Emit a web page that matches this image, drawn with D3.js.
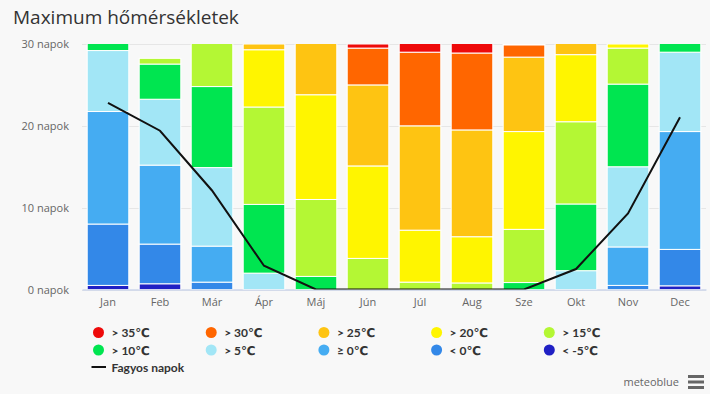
<!DOCTYPE html>
<html>
<head>
<meta charset="utf-8">
<script src="https://cdn.jsdelivr.net/npm/d3@7"></script>
<style>
    body { margin: 0; background: #f8f8f8; }
    svg { display: block; font-family: "Open Sans", "DejaVu Sans", sans-serif; }
</style>
</head>
<body>
<div id="chart-container"></div>
<script>
const months = ["Jan", "Feb", "Már", "Ápr", "Máj", "Jún", "Júl", "Aug", "Sze", "Okt", "Nov", "Dec"];
const yTicks = [0, 10, 20, 30];

// days per month in each max-temperature class, coldest first (stack order)
const belowMinus5 = [0.5, 0.7, 0, 0, 0, 0, 0, 0, 0, 0, 0, 0.45];
const below0 = [7.5, 4.85, 0.9, 0, 0, 0, 0, 0, 0, 0, 0.5, 4.45];
const above0 = [13.75, 9.65, 4.4, 0, 0, 0, 0, 0, 0, 0, 4.7, 14.4];
const above5 = [7.45, 8.05, 9.6, 2.0, 0, 0, 0, 0, 0, 2.3, 9.8, 9.7];
const above10 = [1.8, 4.3, 9.9, 8.4, 1.6, 0, 0, 0, 0.85, 8.15, 10.1, 2.0];
const above15 = [0, 0.7, 6.2, 11.9, 9.4, 3.8, 0.9, 0.8, 6.5, 10.05, 4.4, 0];
const above20 = [0, 0, 0, 7.0, 12.8, 11.3, 6.35, 5.65, 11.95, 8.2, 0.5, 0];
const above25 = [0, 0, 0, 0.7, 7.2, 9.9, 12.75, 13.05, 9.1, 2.3, 0, 0];
const above30 = [0, 0, 0, 0, 0, 4.5, 9.0, 9.4, 1.5, 0, 0, 0];
const above35 = [0, 0, 0, 0, 0, 0.5, 2.0, 2.1, 0.1, 0, 0, 0];
const frostDays = [22.8, 19.4, 12.1, 2.9, 0, 0, 0, 0, 0, 2.5, 9.3, 21.05];

const series = [
    {key: "m5", label: "< -5℃", color: "#2020c4", values: belowMinus5},
    {key: "m0", label: "< 0℃", color: "#3388e8", values: below0},
    {key: "p0", label: "≥ 0℃", color: "#45acf2", values: above0},
    {key: "p5", label: "> 5℃", color: "#a2e6f6", values: above5},
    {key: "p10", label: "> 10℃", color: "#00e550", values: above10},
    {key: "p15", label: "> 15℃", color: "#b4f734", values: above15},
    {key: "p20", label: "> 20℃", color: "#fff500", values: above20},
    {key: "p25", label: "> 25℃", color: "#fec412", values: above25},
    {key: "p30", label: "> 30℃", color: "#ff6600", values: above30},
    {key: "p35", label: "> 35℃", color: "#ee0a0a", values: above35}
];

const chartWidth = 710;
const chartHeight = 394;
const plot = {left: 82, right: 706, top: 44, bottom: 289.5};
const legendFont = "Lato, \"Open Sans\", \"DejaVu Sans\", sans-serif";

function createScales() {
    const xScale = d3.scaleBand()
        .domain(months)
        .range([plot.left, plot.right])
        .paddingInner(0.2)
        .paddingOuter(0.1);

    const yScale = d3.scaleLinear()
        .domain([0, 30])
        .range([plot.bottom, plot.top]);

    return {xScale, yScale};
}

function createSvg() {
    const svg = d3.select("#chart-container").append("svg")
        .attr("width", chartWidth)
        .attr("height", chartHeight);

    svg.append("rect")
        .attr("width", chartWidth)
        .attr("height", chartHeight)
        .attr("fill", "#f8f8f8");

    svg.append("text")
        .attr("x", 13)
        .attr("y", 24)
        .attr("fill", "#333")
        .style("font-size", "19px")
        .text("Maximum hőmérsékletek");

    svg.append("clipPath")
        .attr("id", "plot-clip")
        .append("rect")
        .attr("x", plot.left)
        .attr("y", plot.top)
        .attr("width", plot.right - plot.left)
        .attr("height", plot.bottom - plot.top);

    return svg;
}

function drawAxes(svg, xScale, yScale) {
    const grid = svg.append("g");
    yTicks.forEach(t => {
        grid.append("line")
            .attr("x1", plot.left)
            .attr("x2", plot.right)
            .attr("y1", Math.round(yScale(t)) + 0.5)
            .attr("y2", Math.round(yScale(t)) + 0.5)
            .attr("stroke", "#e6e6e6");

        grid.append("text")
            .attr("x", 69)
            .attr("y", yScale(t) + 4)
            .attr("text-anchor", "end")
            .attr("fill", "#666")
            .style("font-size", "11px")
            .text(`${t} napok`);
    });

    const xAxis = d3.axisBottom(xScale).tickSize(0).tickPadding(9);
    const g = svg.append("g")
        .attr("transform", `translate(0, ${plot.bottom})`)
        .call(xAxis);
    g.select(".domain").attr("stroke", "#ccd6eb").attr("stroke-width", 1.5);
    g.selectAll("text")
        .attr("fill", "#666")
        .style("font-size", "11px")
        .style("font-family", "\"Open Sans\", \"DejaVu Sans\", sans-serif");
}

function drawBars(svg, xScale, yScale) {
    const table = months.map((m, i) => {
        const row = {month: m};
        series.forEach(s => row[s.key] = s.values[i]);
        return row;
    });
    const stacked = d3.stack().keys(series.map(s => s.key))(table);

    const bars = svg.append("g").attr("clip-path", "url(#plot-clip)");
    stacked.forEach((layer, li) => {
        bars.append("g")
            .attr("fill", series[li].color)
            .selectAll("rect")
            .data(layer.filter(d => d[1] - d[0] > 0))
            .enter()
            .append("rect")
            .attr("x", d => xScale(d.data.month))
            .attr("y", d => yScale(d[1]))
            .attr("width", xScale.bandwidth())
            .attr("height", d => yScale(d[0]) - yScale(d[1]))
            .attr("stroke", "#fff")
            .attr("stroke-width", 1);
    });

    const line = d3.line()
        .x((d, i) => xScale(months[i]) + xScale.bandwidth() / 2)
        .y(d => yScale(d));

    bars.append("path")
        .datum(frostDays)
        .attr("d", line)
        .attr("fill", "none")
        .attr("stroke", "#111")
        .attr("stroke-width", 2);
}

function drawLegend(svg) {
    const legend = svg.append("g").style("font-family", legendFont);
    const order = series.slice().reverse();
    order.forEach((s, i) => {
        const cx = 98.5 + (i % 5) * 112.7;
        const cy = 332.5 + Math.floor(i / 5) * 17.5;
        legend.append("circle")
            .attr("cx", cx)
            .attr("cy", cy)
            .attr("r", 5.5)
            .attr("fill", s.color);
        legend.append("text")
            .attr("x", cx + 13)
            .attr("y", cy + 4.5)
            .attr("fill", "#333")
            .style("font-size", "12px")
            .style("font-weight", "bold")
            .text(s.label);
    });

    legend.append("line")
        .attr("x1", 91.5)
        .attr("x2", 106)
        .attr("y1", 367)
        .attr("y2", 367)
        .attr("stroke", "#111")
        .attr("stroke-width", 2);
    legend.append("text")
        .attr("x", 111.5)
        .attr("y", 371.5)
        .attr("fill", "#333")
        .style("font-size", "12px")
        .style("font-weight", "bold")
        .text("Fagyos napok");

    svg.append("text")
        .attr("x", 679)
        .attr("y", 386)
        .attr("text-anchor", "end")
        .attr("fill", "#666")
        .style("font-size", "11px")
        .text("meteoblue");

    [375, 380.5, 386].forEach(y => {
        svg.append("rect")
            .attr("x", 688)
            .attr("y", y)
            .attr("width", 16)
            .attr("height", 3)
            .attr("fill", "#666");
    });
}

const {xScale, yScale} = createScales();
const svg = createSvg();
drawAxes(svg, xScale, yScale);
drawBars(svg, xScale, yScale);
drawLegend(svg);
</script>
</body>
</html>
